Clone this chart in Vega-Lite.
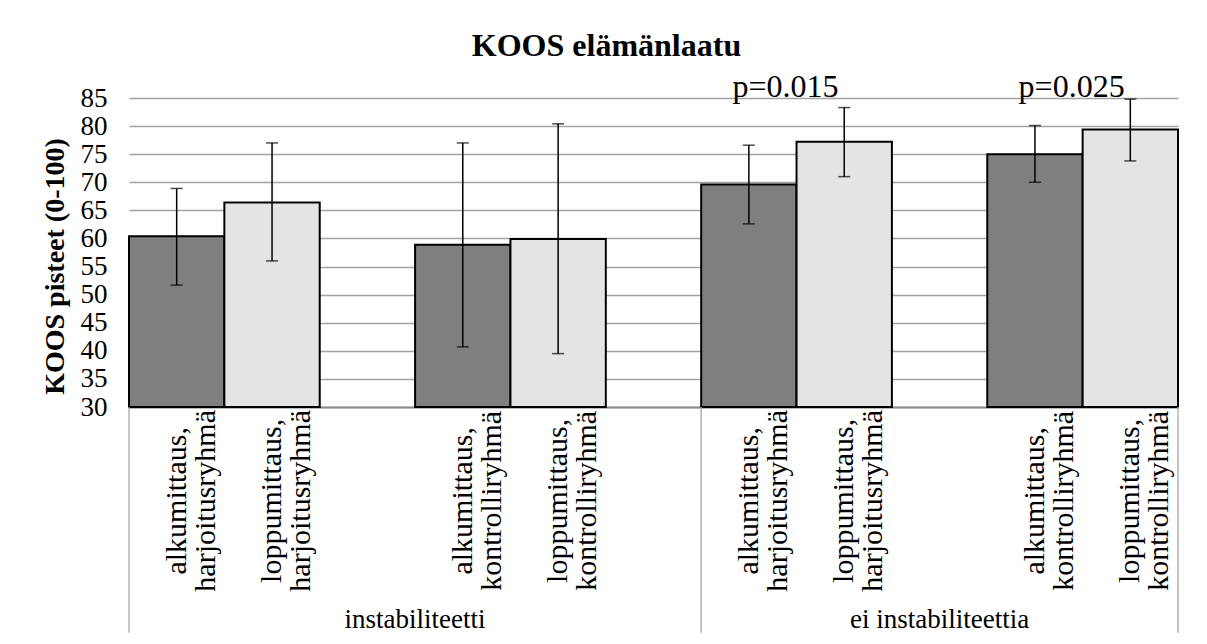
{
  "$schema": "https://vega.github.io/schema/vega-lite/v6.json",
  "width": 1049,
  "height": 309,
  "autosize": {"type": "none"},
  "padding": {"left": 129, "top": 98, "right": 29, "bottom": 237},
  "background": "white",
  "config": {
    "font": "Liberation Serif",
    "view": {"stroke": null},
    "text": {"color": "black", "font": "Liberation Serif"},
    "axisY": {
      "labelFont": "Liberation Serif",
      "labelFontSize": 27,
      "labelColor": "black",
      "labelPadding": 22,
      "labelOverlap": false,
      "ticks": false,
      "domain": false,
      "grid": true,
      "gridColor": "#a3a3a3",
      "gridWidth": 1.3,
      "titleFont": "Liberation Serif",
      "titleFontSize": 28,
      "titleFontWeight": "bold",
      "titleColor": "black",
      "titlePadding": 11,
      "titleY": 168
    }
  },
  "title": {
    "text": "KOOS elämänlaatu",
    "font": "Liberation Serif",
    "fontSize": 32,
    "fontWeight": "bold",
    "color": "black",
    "anchor": "middle",
    "frame": "group",
    "dx": -47,
    "offset": 8
  },
  "data": {
    "values": [
      {"kohta": "b1", "sarja": "alkumittaus", "nimi": "alkumittaus,\nharjoitusryhmä", "ka": 60.4, "ala": 51.7, "yla": 68.9, "p": null},
      {"kohta": "b2", "sarja": "loppumittaus", "nimi": "loppumittaus,\nharjoitusryhmä", "ka": 66.4, "ala": 56.0, "yla": 77.0, "p": null},
      {"kohta": "b3", "sarja": "alkumittaus", "nimi": "alkumittaus,\nkontrolliryhmä", "ka": 58.9, "ala": 40.7, "yla": 77.0, "p": null},
      {"kohta": "b4", "sarja": "loppumittaus", "nimi": "loppumittaus,\nkontrolliryhmä", "ka": 59.9, "ala": 39.5, "yla": 80.4, "p": null},
      {"kohta": "b5", "sarja": "alkumittaus", "nimi": "alkumittaus,\nharjoitusryhmä", "ka": 69.6, "ala": 62.6, "yla": 76.6, "p": null},
      {"kohta": "b6", "sarja": "loppumittaus", "nimi": "loppumittaus,\nharjoitusryhmä", "ka": 77.2, "ala": 71.0, "yla": 83.3, "p": "p=0.015"},
      {"kohta": "b7", "sarja": "alkumittaus", "nimi": "alkumittaus,\nkontrolliryhmä", "ka": 75.0, "ala": 70.0, "yla": 80.1, "p": null},
      {"kohta": "b8", "sarja": "loppumittaus", "nimi": "loppumittaus,\nkontrolliryhmä", "ka": 79.4, "ala": 73.8, "yla": 84.8, "p": "p=0.025"}
    ]
  },
  "layer": [
    {
      "mark": {"type": "bar", "stroke": "black", "strokeWidth": 2},
      "encoding": {
        "x": {
          "field": "kohta",
          "type": "nominal",
          "scale": {
            "domain": ["b1", "b2", "g1", "b3", "b4", "g2", "b5", "b6", "g3", "b7", "b8"],
            "paddingInner": 0,
            "paddingOuter": 0
          },
          "axis": {
            "title": null,
            "labels": false,
            "ticks": false,
            "grid": false,
            "domain": true,
            "domainColor": "#8c8c8c",
            "domainWidth": 2
          }
        },
        "y": {
          "field": "ka",
          "type": "quantitative",
          "title": "KOOS pisteet (0-100)",
          "scale": {"domain": [30, 85], "nice": false, "zero": false},
          "axis": {"values": [30, 35, 40, 45, 50, 55, 60, 65, 70, 75, 80, 85]}
        },
        "y2": {"datum": 30},
        "color": {
          "field": "sarja",
          "type": "nominal",
          "scale": {"domain": ["alkumittaus", "loppumittaus"], "range": ["#7f7f7f", "#e4e4e4"]},
          "legend": null
        }
      }
    },
    {
      "mark": {
        "type": "errorbar",
        "color": "black",
        "ticks": {"size": 12, "thickness": 1.5, "color": "black"},
        "rule": {"strokeWidth": 1.5, "color": "black"}
      },
      "encoding": {
        "x": {"field": "kohta", "type": "nominal"},
        "y": {
          "field": "ala",
          "type": "quantitative",
          "title": "KOOS pisteet (0-100)",
          "axis": {"values": [30, 35, 40, 45, 50, 55, 60, 65, 70, 75, 80, 85]}
        },
        "y2": {"field": "yla"}
      }
    },
    {
      "mark": {
        "type": "text",
        "angle": 270,
        "align": "center",
        "baseline": "middle",
        "lineBreak": "\n",
        "lineHeight": 29,
        "fontSize": 30
      },
      "encoding": {
        "x": {"field": "kohta", "type": "nominal"},
        "y": {"datum": 13.3, "type": "quantitative", "axis": {"values": [30, 35, 40, 45, 50, 55, 60, 65, 70, 75, 80, 85]}},
        "text": {"field": "nimi"}
      }
    },
    {
      "transform": [{"filter": "datum.p != null"}],
      "mark": {
        "type": "text",
        "align": "center",
        "baseline": "alphabetic",
        "fontSize": 32,
        "dx": -11,
        "dy": -1
      },
      "encoding": {
        "x": {"field": "kohta", "type": "nominal", "bandPosition": 0},
        "y": {"datum": 85, "type": "quantitative", "axis": {"values": [30, 35, 40, 45, 50, 55, 60, 65, 70, 75, 80, 85]}},
        "text": {"field": "p"}
      }
    },
    {
      "data": {"values": [{"raja": "b1"}, {"raja": "b5"}]},
      "mark": {"type": "rule", "color": "#a6a6a6", "strokeWidth": 1.3},
      "encoding": {
        "x": {"field": "raja", "type": "nominal", "bandPosition": 0},
        "y": {"datum": 30, "type": "quantitative", "axis": {"values": [30, 35, 40, 45, 50, 55, 60, 65, 70, 75, 80, 85]}},
        "y2": {"datum": -10.2}
      }
    },
    {
      "data": {"values": [{"raja": "b8"}]},
      "mark": {"type": "rule", "color": "#a6a6a6", "strokeWidth": 1.3},
      "encoding": {
        "x": {"field": "raja", "type": "nominal", "bandPosition": 1},
        "y": {"datum": 30, "type": "quantitative", "axis": {"values": [30, 35, 40, 45, 50, 55, 60, 65, 70, 75, 80, 85]}},
        "y2": {"datum": -10.2}
      }
    },
    {
      "data": {"values": [{"ryhma": "instabiliteetti"}]},
      "mark": {"type": "text", "align": "center", "baseline": "middle", "fontSize": 27},
      "encoding": {
        "x": {"datum": "g1", "type": "nominal", "bandPosition": 1},
        "y": {"datum": -7.9, "type": "quantitative", "axis": {"values": [30, 35, 40, 45, 50, 55, 60, 65, 70, 75, 80, 85]}},
        "text": {"field": "ryhma"}
      }
    },
    {
      "data": {"values": [{"ryhma": "ei instabiliteettia"}]},
      "mark": {"type": "text", "align": "center", "baseline": "middle", "fontSize": 27},
      "encoding": {
        "x": {"datum": "g3", "type": "nominal"},
        "y": {"datum": -7.9, "type": "quantitative", "axis": {"values": [30, 35, 40, 45, 50, 55, 60, 65, 70, 75, 80, 85]}},
        "text": {"field": "ryhma"}
      }
    }
  ]
}
